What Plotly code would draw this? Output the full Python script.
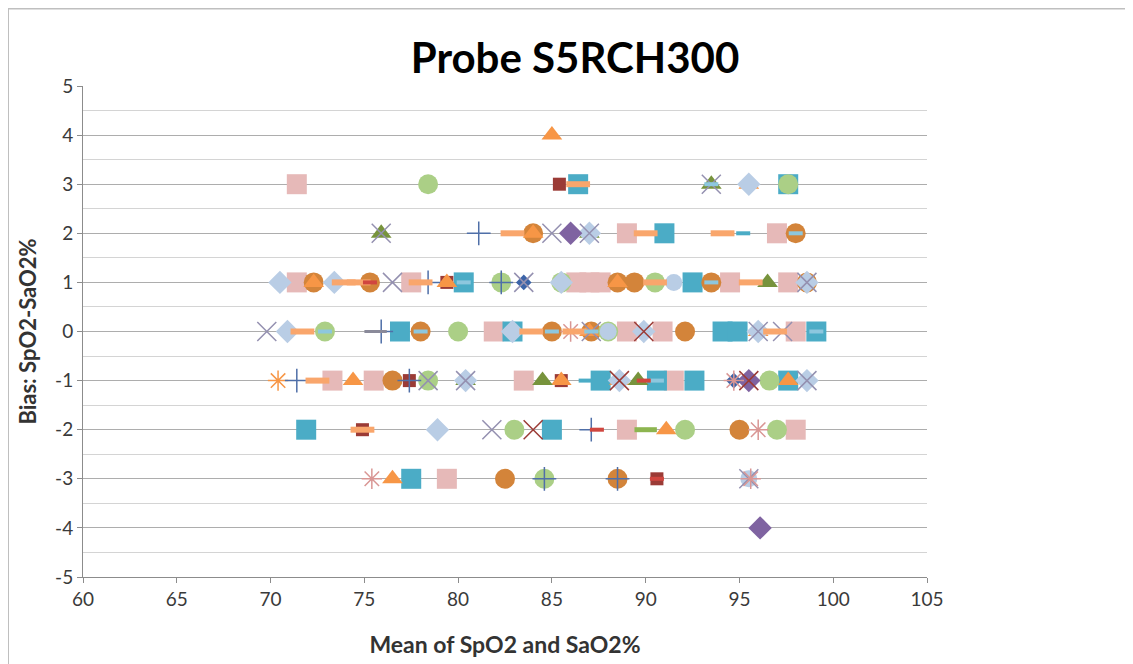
import plotly.graph_objects as go

# ---- data ----
pink_sq_x = [71.4, 89.0, 97.0, 71.4, 77.5, 86.3, 87.0, 87.6, 94.5, 97.6, 81.9, 89.0, 90.9, 98.0, 73.3, 75.5, 83.5, 91.5, 89.0, 98.0, 79.4]
pink_sq_y = [3, 2, 2, 1, 1, 1, 1, 1, 1, 1, 0, 0, 0, 0, -1, -1, -1, -1, -2, -2, -3]

teal_sq_x = [86.4, 97.6, 91.0, 80.3, 92.5, 76.9, 82.9, 94.1, 94.9, 99.1, 87.6, 90.6, 92.6, 97.6, 71.9, 85.0, 77.5]
teal_sq_y = [3, 3, 2, 1, 1, 0, 0, 0, 0, 0, -1, -1, -1, -1, -2, -2, -3]

dkred_sq_x = [85.4, 79.4, 77.4, 85.5, 74.9, 90.6]
dkred_sq_y = [3, 1, -1, -1, -2, -3]

brown_ci_x = [84.0, 98.0, 72.3, 75.3, 88.5, 89.4, 93.5, 98.6, 78.0, 85.0, 87.1, 92.1, 76.5, 95.0, 82.5, 88.5]
brown_ci_y = [2, 2, 1, 1, 1, 1, 1, 1, 0, 0, 0, 0, -1, -2, -3, -3]

orange_tri_x = [85.0, 95.5, 84.0, 72.3, 79.4, 88.5, 96.0, 87.0, 74.4, 85.5, 88.6, 97.6, 91.1, 76.5]
orange_tri_y = [4, 3, 2, 1, 1, 1, 0, 0, -1, -1, -1, -1, -2, -3]

green_tri_x = [93.5, 75.9, 87.0, 96.5, 80.4, 84.5, 89.6]
green_tri_y = [3, 2, 2, 1, -1, -1, -1]

lgreen_ci_x = [78.4, 97.6, 82.3, 90.5, 85.5, 72.9, 80.0, 88.0, 78.4, 96.6, 83.0, 92.1, 97.0, 84.6]
lgreen_ci_y = [3, 3, 1, 1, 1, 0, 0, 0, -1, -1, -2, -2, -2, -3]

lblue_di_x = [95.5, 87.0, 70.5, 73.4, 85.5, 98.6, 70.9, 82.9, 89.9, 96.0, 80.4, 88.6, 98.6, 78.9]
lblue_di_y = [3, 2, 1, 1, 1, 1, 0, 0, 0, 0, -1, -1, -1, -2]

lblue_ci_x = [91.5, 88.0, 95.5]
lblue_ci_y = [1, 0, -3]

purple_di_x = [86.0, 95.5, 96.1]
purple_di_y = [2, -1, -4]

dkblue_di_x = [83.5, 94.7]
dkblue_di_y = [1, -1]

x_mark_x = [93.5, 75.9, 85.0, 87.0, 76.5, 83.5, 98.6, 69.8, 87.1, 96.0, 97.3, 78.4, 80.4, 98.6, 81.8, 95.5]
x_mark_y = [3, 2, 2, 2, 1, 1, 1, 0, 0, 0, 0, -1, -1, -1, -2, -3]

dkred_x_x = [89.9, 88.6, 84.0, 95.5]
dkred_x_y = [0, -1, -2, -1]

star_pink_x = [86.0, 94.7, 96.0, 75.4, 95.6]
star_pink_y = [0, -1, -2, -3, -3]

star_orange_x = [70.4]
star_orange_y = [-1]

plus_x = [81.1, 78.4, 82.3, 75.9, 71.4, 77.4, 87.1, 88.5, 84.6]
plus_y = [2, 1, 1, 0, -1, -1, -2, -3, -3]

or_dash_x = [86.4, 82.9, 90.0, 94.1, 73.9, 74.7, 78.0, 90.5, 95.6, 71.7, 83.9, 86.2, 96.9, 72.5, 74.9]
or_dash_y = [3, 2, 2, 2, 1, 1, 1, 1, 1, 0, 0, 0, 0, -1, -2]

lb_dash_x = [93.5, 98.0, 80.3, 93.5, 72.9, 78.0, 85.0, 87.1, 99.1, 90.6]
lb_dash_y = [3, 2, 1, 1, 0, 0, 0, 0, 0, -1]

teal_dash_x = [95.2, 86.8]
teal_dash_y = [2, -1]

red_dash_x = [75.3, 89.9, 87.4, 90.6]
red_dash_y = [1, -1, -2, -3]

green_dash_x = [90.0]
green_dash_y = [-2]

grey_dash_x = [75.6]
grey_dash_y = [0]

y_ticks = [5, 4, 3, 2, 1, 0, -1, -2, -3, -4, -5]
y_tick_text = ["5", "4", "3", "2", "1", "0", "-1", "-2", "-3", "-4", "-5"]

fig = go.Figure()


def add(x, y, symbol, size, color, lcolor=None, lwidth=0):
    fig.add_trace(go.Scatter(
        x=x, y=y, mode="markers", showlegend=False,
        marker=dict(symbol=symbol, size=size, color=color,
                    line=dict(color=lcolor or color, width=lwidth)),
    ))


add(pink_sq_x, pink_sq_y, "square", 20, "#E6B9B8")
add(teal_sq_x, teal_sq_y, "square", 20, "#4BACC6")
add(dkred_sq_x, dkred_sq_y, "square", 13, "#9B3B36")
add(brown_ci_x, brown_ci_y, "circle", 20, "#D3843A")
add(orange_tri_x, orange_tri_y, "triangle-up", 18, "#F79646")
add(green_tri_x, green_tri_y, "triangle-up", 18, "#77933C")
add(lgreen_ci_x, lgreen_ci_y, "circle", 20, "#ABCF86")
add(lblue_di_x, lblue_di_y, "diamond", 18, "#B9CDE5")
add(lblue_ci_x, lblue_ci_y, "circle", 17, "#B9CDE5")
add(purple_di_x, purple_di_y, "diamond", 18, "#7F63A1")
add(dkblue_di_x, dkblue_di_y, "diamond", 12, "#3C64A8")
add(x_mark_x, x_mark_y, "x-thin-open", 19, "#9490B0", "#9490B0", 1.5)
add(dkred_x_x, dkred_x_y, "x-thin-open", 19, "#9B3B36", "#9B3B36", 1.5)
add(star_pink_x, star_pink_y, "asterisk-open", 17, "#D99694", "#D99694", 1.5)
add(star_orange_x, star_orange_y, "asterisk-open", 17, "#F79646", "#F79646", 1.5)
add(plus_x, plus_y, "cross-thin-open", 17, "#4F6FA8", "#4F6FA8", 1.5)
add(or_dash_x, or_dash_y, "line-ew", 17, "#F9A66C", "#F9A66C", 6)
add(lb_dash_x, lb_dash_y, "line-ew", 10, "#8DC7DE", "#8DC7DE", 4)
add(teal_dash_x, teal_dash_y, "line-ew", 10, "#4BACC6", "#4BACC6", 4)
add(red_dash_x, red_dash_y, "line-ew", 10, "#D0463F", "#D0463F", 4)
add(green_dash_x, green_dash_y, "line-ew", 16, "#8DB550", "#8DB550", 5)
add(grey_dash_x, grey_dash_y, "line-ew", 16, "#8A8A9A", "#8A8A9A", 3)

font = "Lato, 'Open Sans', sans-serif"

# page has an 8px body margin; figure is sized so it fits the window
W, H = 1125, 656
L, T, R, B = 75, 78, 206, 87
pw, ph = W - L - R, H - T - B

fig.update_layout(
    width=W, height=H,
    margin=dict(l=L, r=R, t=T, b=B, autoexpand=False),
    paper_bgcolor="white", plot_bgcolor="white",
    font=dict(family=font, size=18, color="#333333"),
    title=dict(text="Probe S5RCH300", x=567 / W, xanchor="center", y=1 - 50 / H, yanchor="middle",
               font=dict(family=font, size=42, color="#000000", weight="bold")),
    xaxis=dict(range=[60, 105], dtick=5, tick0=60, showgrid=False, zeroline=False,
               showline=True, linecolor="#8C8C8C", linewidth=1,
               ticks="outside", ticklen=5, tickcolor="#8C8C8C",
               tickfont=dict(size=19, color="#3A3A3A"),
               title=dict(text="Mean of SpO2 and SaO2%", standoff=28,
                          font=dict(size=23, color="#333333", weight="bold"))),
    yaxis=dict(range=[-5, 5], tickvals=y_ticks, ticktext=y_tick_text,
               showgrid=True, gridcolor="#ADADAD", gridwidth=1,
               zeroline=False, showline=True, linecolor="#8C8C8C", linewidth=1,
               ticks="outside", ticklen=5, tickcolor="#8C8C8C",
               minor=dict(dtick=0.5, tick0=0, showgrid=True, gridcolor="#D4D4D4", gridwidth=1, ticks=""),
               tickfont=dict(size=19, color="#3A3A3A"),
               title=dict(text="Bias: SpO2-SaO2%", standoff=12,
                          font=dict(size=22, color="#333333", weight="bold"))),
    shapes=[dict(type="rect", xref="paper", yref="paper",
                 x0=(0 - L) / pw, x1=(W + 20 - L) / pw, y0=-0.3, y1=(ph + T - 0.5) / ph,
                 line=dict(color="#BFBFBF", width=2), fillcolor="rgba(0,0,0,0)", layer="below")],
)

fig.write_html("out.html")
